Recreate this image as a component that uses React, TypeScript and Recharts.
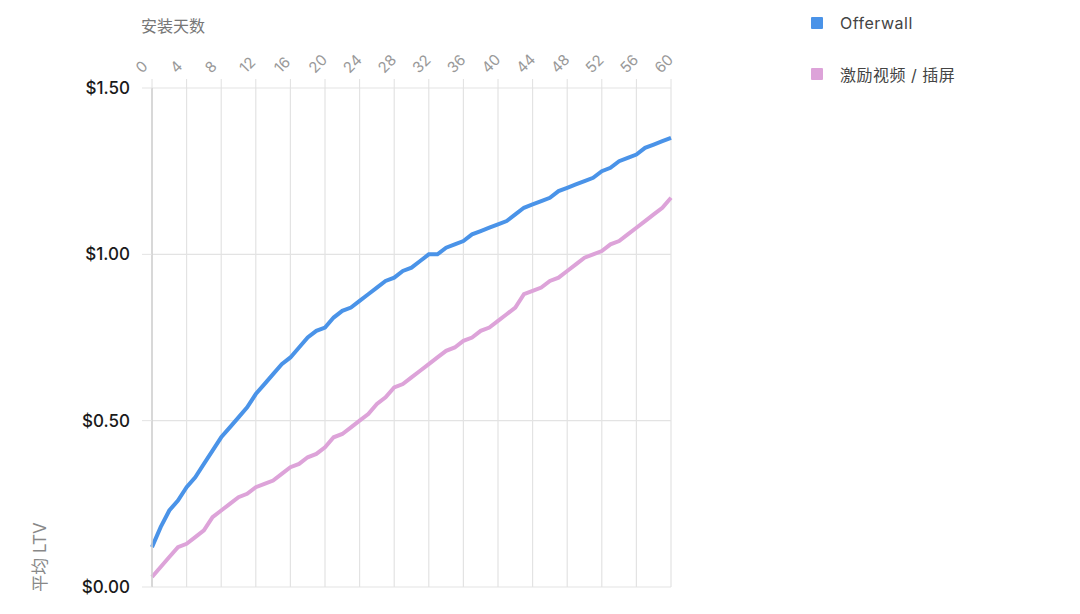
import React from 'react';
import { LineChart, Line, XAxis, YAxis, CartesianGrid } from 'recharts';

const days = Array.from({ length: 61 }, (_, i) => i);
const offerwall = [
  0.12, 0.18, 0.23, 0.26, 0.30, 0.33, 0.37, 0.41, 0.45, 0.48,
  0.51, 0.54, 0.58, 0.61, 0.64, 0.67, 0.69, 0.72, 0.75, 0.77,
  0.78, 0.81, 0.83, 0.84, 0.86, 0.88, 0.90, 0.92, 0.93, 0.95,
  0.96, 0.98, 1.00, 1.00, 1.02, 1.03, 1.04, 1.06, 1.07, 1.08,
  1.09, 1.10, 1.12, 1.14, 1.15, 1.16, 1.17, 1.19, 1.20, 1.21,
  1.22, 1.23, 1.25, 1.26, 1.28, 1.29, 1.30, 1.32, 1.33, 1.34,
  1.35,
];
const rewarded = [
  0.03, 0.06, 0.09, 0.12, 0.13, 0.15, 0.17, 0.21, 0.23, 0.25,
  0.27, 0.28, 0.30, 0.31, 0.32, 0.34, 0.36, 0.37, 0.39, 0.40,
  0.42, 0.45, 0.46, 0.48, 0.50, 0.52, 0.55, 0.57, 0.60, 0.61,
  0.63, 0.65, 0.67, 0.69, 0.71, 0.72, 0.74, 0.75, 0.77, 0.78,
  0.80, 0.82, 0.84, 0.88, 0.89, 0.90, 0.92, 0.93, 0.95, 0.97,
  0.99, 1.00, 1.01, 1.03, 1.04, 1.06, 1.08, 1.10, 1.12, 1.14,
  1.17,
];
const xTicks = [0, 4, 8, 12, 16, 20, 24, 28, 32, 36, 40, 44, 48, 52, 56, 60];
const yTicks = [0, 0.5, 1.0, 1.5];
const seriesNames = ['Offerwall', '激励视频 / 插屏'];
const seriesColors = ['#4A93E8', '#DDA3D9'];
const xTitle = '安装天数';
const yTitle = '平均 LTV';

const data = days.map((d, i) => ({ day: d, offerwall: offerwall[i], rewarded: rewarded[i] }));

const FONT = 'Inter, "Noto Sans CJK SC", "Noto Sans", sans-serif';

const XTick = (props: any) => {
  const { x, y, payload } = props;
  return (
    <text
      x={0}
      y={0}
      transform={`translate(${x - 10},${y - 3}) rotate(-45)`}
      textAnchor="start"
      fontSize={15}
      fill="#999"
      fontFamily={FONT}
    >
      {payload.value}
    </text>
  );
};

export default function App() {
  return (
    <div style={{ position: 'absolute', left: 0, top: 0, width: 1080, height: 614, background: '#fff' }}>
      <LineChart
        width={1080}
        height={614}
        data={data}
        margin={{ top: 58, right: 409, bottom: 27, left: 0 }}
      >
        <CartesianGrid stroke="#e3e3e3" strokeWidth={1.2} />
        <XAxis
          dataKey="day"
          type="number"
          orientation="top"
          domain={[0, 60]}
          ticks={xTicks}
          height={30}
          tickSize={9}
          tickLine={{ stroke: '#e0e0e0' }}
          axisLine={false}
          tick={<XTick />}
          interval={0}
        />
        <YAxis
          type="number"
          domain={[0, 1.5]}
          ticks={yTicks}
          width={152}
          tickSize={10}
          tickMargin={12}
          tickLine={{ stroke: '#e3e3e3' }}
          axisLine={{ stroke: '#d0d0d0', strokeWidth: 1.5 }}
          tickFormatter={(v: number) => `$${v.toFixed(2)}`}
          tick={{ fontSize: 17, fill: '#1a1a1a', fontWeight: 500, fontFamily: FONT }}
        />
        <Line
          dataKey="offerwall"
          name={seriesNames[0]}
          stroke={seriesColors[0]}
          strokeWidth={4}
          dot={false}
          isAnimationActive={false}
          type="linear"
        />
        <Line
          dataKey="rewarded"
          name={seriesNames[1]}
          stroke={seriesColors[1]}
          strokeWidth={4}
          dot={false}
          isAnimationActive={false}
          type="linear"
        />
      </LineChart>
      <div style={{ position: 'absolute', left: 811, top: -3, fontFamily: FONT }}>
        {seriesNames.map((n, i) => (
          <div key={n} style={{ display: 'flex', alignItems: 'center', height: 51 }}>
            <div style={{ width: 12, height: 12, background: seriesColors[i], borderRadius: 1, marginRight: 17 }} />
            <span style={{ fontSize: 16, color: '#444', letterSpacing: 0.5 }}>{n}</span>
          </div>
        ))}
      </div>
      <div style={{ position: 'absolute', left: 141, top: 13, fontSize: 16, color: '#777', fontFamily: FONT }}>
        {xTitle}
      </div>
      <div
        style={{
          position: 'absolute',
          left: 38,
          top: 557,
          fontSize: 17,
          color: '#888',
          fontFamily: FONT,
          whiteSpace: 'nowrap',
          transform: 'translate(-50%, -50%) rotate(-90deg)',
        }}
      >
        {yTitle}
      </div>
    </div>
  );
}
